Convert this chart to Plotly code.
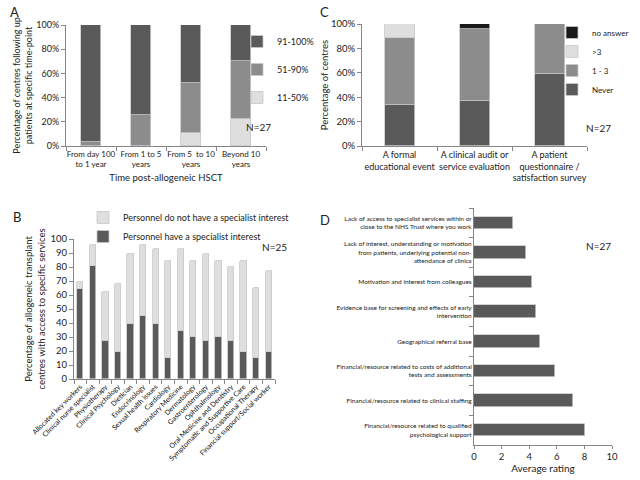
import plotly.graph_objects as go

# ---------------- Panel A data ----------------
a_categories = ["From day 100<br>to 1 year", "From 1 to 5<br>years",
                "From 5  to 10<br>years", "Beyond 10<br>years"]
a_11_50 = [0, 0, 11.1, 22.2]
a_51_90 = [3.7, 25.9, 40.7, 48.1]
a_91_100 = [96.3, 74.1, 48.2, 29.7]
pct_ticks = [0, 20, 40, 60, 80, 100]
pct_labels = ["0%", "20%", "40%", "60%", "80%", "100%"]

# ---------------- Panel C data ----------------
c_categories = ["A formal<br>educational event",
                "A clinical audit or<br>service evaluation",
                "A patient<br>questionnaire /<br>satisfaction survey"]
c_never = [33.3, 37.0, 59.3]
c_1_3 = [55.6, 59.3, 40.7]
c_gt3 = [11.1, 0, 0]
c_no_answer = [0, 3.7, 0]

# ---------------- Panel B data ----------------
b_services = ["Allocated key workers", "Clinical nurse specialist", "Physiotherapy",
              "Clinical Psychology", "Dietician", "Endocrinology", "Sexual health issues",
              "Cardiology", "Respiratory Medicine", "Dermatology", "Gastroenterology",
              "Ophthalmology", "Oral Medicine and Dentistry",
              "Symptomatic and Supportive Care", "Occupational Therapy",
              "Financial support/Social worker"]
b_specialist = [64, 81, 27, 19, 39, 45, 39, 15, 34, 30, 27, 30, 27, 19, 15, 19]
b_non_specialist = [5, 15, 35, 49, 50, 51, 54, 69, 59, 54, 62, 54, 53, 65, 50, 58]
b_ticks = [0, 10, 20, 30, 40, 50, 60, 70, 80, 90, 100]

# ---------------- Panel D data ----------------
d_factors = ["Lack of access to specialist services within or<br>close to the NHS Trust where you work",
             "Lack of interest, understanding or motivation<br>from patients, underlying potential non-<br>attendance of clinics",
             "Motivation and interest from colleagues",
             "Evidence base for screening and effects of early<br>intervention",
             "Geographical referral base",
             "Financial/resource related to costs of additional<br>tests and assessments",
             "Financial/resource related to clinical staffing",
             "Financial/resource related to qualified<br>psychological support"]
d_rating = [2.85, 3.75, 4.2, 4.5, 4.75, 5.9, 7.15, 8.05]
d_ticks = [0, 2, 4, 6, 8, 10]

DARK = "#5a5a5a"
MID = "#8c8c8c"
LIGHT = "#dedede"
BLACK = "#1a1a1a"
EDGE = dict(color="#c8c8c8", width=0.8)
FONT = "Lato"
AX = "#868686"

fig = go.Figure()

# Panel A
for name, vals, col, rank in [("11-50%", a_11_50, LIGHT, 3), ("51-90%", a_51_90, MID, 2),
                              ("91-100%", a_91_100, DARK, 1)]:
    fig.add_trace(go.Bar(x=a_categories, y=vals, name=name, marker=dict(color=col, line=EDGE),
                         width=0.4, xaxis="x", yaxis="y", legend="legend", legendgroup=name,
                         legendrank=rank))

# Panel C
for name, vals, col in [("Never", c_never, DARK), ("1 - 3", c_1_3, MID), (">3", c_gt3, LIGHT), ("no answer", c_no_answer, BLACK)]:
    fig.add_trace(go.Bar(x=c_categories, y=vals, name=name, marker=dict(color=col, line=EDGE),
                         width=0.4, xaxis="x2", yaxis="y2", legend="legend2"))

# Panel B
fig.add_trace(go.Bar(x=b_services, y=b_specialist, name="Personnel have a specialist interest",
                     marker=dict(color=DARK, line=EDGE), width=0.5, xaxis="x3", yaxis="y3", legend="legend3"))
fig.add_trace(go.Bar(x=b_services, y=b_non_specialist, name="Personnel do not have a specialist interest",
                     marker=dict(color=LIGHT, line=EDGE), width=0.5, xaxis="x3", yaxis="y3", legend="legend3"))

# Panel D
fig.add_trace(go.Bar(y=d_factors, x=d_rating, orientation="h", marker=dict(color=DARK, line=EDGE),
                     width=0.42, xaxis="x4", yaxis="y4", showlegend=False))

def px_x(a, b):
    return [a / 640, b / 640]

def px_y(top, bottom):
    return [1 - bottom / 480, 1 - top / 480]

cat_axis = dict(showline=True, linecolor=AX, ticks="outside", tickson="boundaries", ticklen=4,
                tickcolor=AX, showgrid=False, zeroline=False, automargin=False, tickangle=0)
val_axis = dict(showline=True, linecolor=AX, ticks="outside", ticklen=4, tickcolor=AX,
                showgrid=False, zeroline=False, automargin=False)

fig.update_layout(
    template="none",
    width=640, height=480, margin=dict(l=0, r=0, t=0, b=0),
    paper_bgcolor="white", plot_bgcolor="white",
    font=dict(family=FONT, color="#222222", size=9),
    barmode="stack", bargap=0,
    xaxis=dict(domain=px_x(66, 266), anchor="y", tickfont=dict(size=8),
               title=dict(text="Time post-allogeneic HSCT", font=dict(size=9.5), standoff=6), **cat_axis),
    yaxis=dict(domain=px_y(25, 146), anchor="x", range=[0, 100], tickvals=pct_ticks, ticktext=pct_labels,
               tickfont=dict(size=9),
               title=dict(text="Percentage of centres following up<br>patients at specific time-point",
                          font=dict(size=9), standoff=2), **val_axis),
    xaxis2=dict(domain=px_x(362, 587), anchor="y2", tickfont=dict(size=9), **cat_axis),
    yaxis2=dict(domain=px_y(24, 146), anchor="x2", range=[0, 100], tickvals=pct_ticks, ticktext=pct_labels,
                tickfont=dict(size=9.5),
                title=dict(text="Percentage of centres", font=dict(size=9.5), standoff=0), **val_axis),
    xaxis3=dict(domain=px_x(74, 275), anchor="y3", tickfont=dict(size=7, color="#111111"),
                **{**cat_axis, "tickangle": -45}),
    yaxis3=dict(domain=px_y(239, 379), anchor="x3", range=[0, 100], tickvals=b_ticks,
                tickfont=dict(size=9.5),
                title=dict(text="Percentage of allogeneic transplant<br>centres with access to specific services",
                           font=dict(size=9.5), standoff=3), **val_axis),
    xaxis4=dict(domain=px_x(474, 612), anchor="y4", range=[0, 10], tickvals=d_ticks,
                tickfont=dict(size=9.5),
                title=dict(text="Average rating", font=dict(size=10), standoff=2),
                **{**val_axis, "ticklen": 3}),
    yaxis4=dict(domain=px_y(208, 445), anchor="x4", autorange="reversed", tickfont=dict(size=6.5),
                **cat_axis),
    legend=dict(x=237 / 640, y=1 - 27 / 480, xanchor="left", yanchor="top", traceorder="grouped",
                tracegroupgap=9, bgcolor="rgba(0,0,0,0)", font=dict(size=9)),
    legend2=dict(x=552 / 640, y=1 - 18 / 480, xanchor="left", yanchor="top", traceorder="reversed",
                 bgcolor="rgba(0,0,0,0)", font=dict(size=8)),
    legend3=dict(x=83 / 640, y=1 - 203 / 480, xanchor="left", yanchor="top", traceorder="reversed",
                 bgcolor="rgba(0,0,0,0)", font=dict(size=9)),
)

ann = [
    ("A", 14, 12, 13), ("C", 324, 12, 13), ("B", 17, 217, 13), ("D", 325, 220, 13),
    ("N=27", 258, 127, 10), ("N=27", 598, 128, 10), ("N=25", 274, 247, 10), ("N=27", 598, 246, 10),
]
for text, xp, yp, sz in ann:
    fig.add_annotation(text=text, x=xp / 640, y=1 - yp / 480, xref="paper", yref="paper",
                       showarrow=False, font=dict(size=sz, color="#222222"), xanchor="center", yanchor="middle")

fig.write_html("out.html", config={"displayModeBar": False},
               post_script="document.body.style.margin='0px';")
